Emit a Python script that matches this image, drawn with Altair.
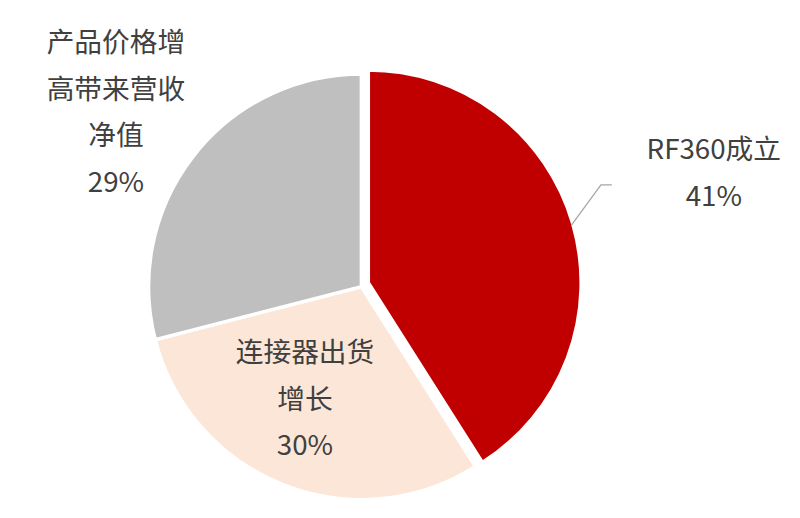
import altair as alt
import pandas as pd

categories = ["RF360成立", "连接器出货增长", "产品价格增高带来营收净值"]
values = [41, 30, 29]
colors = ["#C00000", "#FCE6D8", "#BFBFBF"]
label_lines = ["RF360成立\n41%", "连接器出货\n增长\n30%", "产品价格增\n高带来营收\n净值\n29%"]

starts, ends, acc = [], [], 0
for v in values:
    starts.append(acc)
    acc += v
    ends.append(acc)
df = pd.DataFrame({"cat": categories, "value": values, "start": starts, "end": ends})

theta_scale = alt.Scale(domain=[0, 100], range=[0, 6.283185307])
color_scale = alt.Scale(domain=categories, range=colors)

def arcs(sel, cx, cy):
    return alt.Chart(df).transform_filter(sel).mark_arc(
        outerRadius=215, stroke="white", strokeWidth=3.5
    ).encode(
        theta=alt.Theta("start:Q", scale=theta_scale),
        theta2="end:Q",
        color=alt.Color("cat:N", scale=color_scale, legend=None),
        x=alt.value(cx), y=alt.value(cy),
    )

red = arcs(alt.datum.cat == categories[0], 364, 275)
rest = arcs(alt.datum.cat != categories[0], 357, 279)

leader = pd.DataFrame({"px": [569, 599, 610], "py": [217, 176, 176]})
line = alt.Chart(leader).mark_line(color="#A6A6A6", strokeWidth=1.3).encode(
    x=alt.X("px:Q", scale=alt.Scale(domain=[0, 792], range=[0, 792]), axis=None),
    y=alt.Y("py:Q", scale=alt.Scale(domain=[0, 510], range=[0, 510]), axis=None),
)

def label(text, x, y):
    return alt.Chart(pd.DataFrame({"t": [text]})).mark_text(
        font="Noto Sans CJK SC", fontSize=28, color="#404040",
        lineHeight=47, align="center", baseline="top", lineBreak="\n",
    ).encode(text="t:N", x=alt.value(x), y=alt.value(y))

l1 = label(label_lines[0], 713, 128)
l2 = label(label_lines[1], 300, 333)
l3 = label(label_lines[2], 109, 20)

chart = alt.layer(rest, red, line, l1, l2, l3).properties(
    width=792, height=510, padding=0, autosize="none"
).configure_view(stroke=None).resolve_scale(x="independent", y="independent")

chart.save("out.html", embed_options={"renderer": "svg", "actions": False})
